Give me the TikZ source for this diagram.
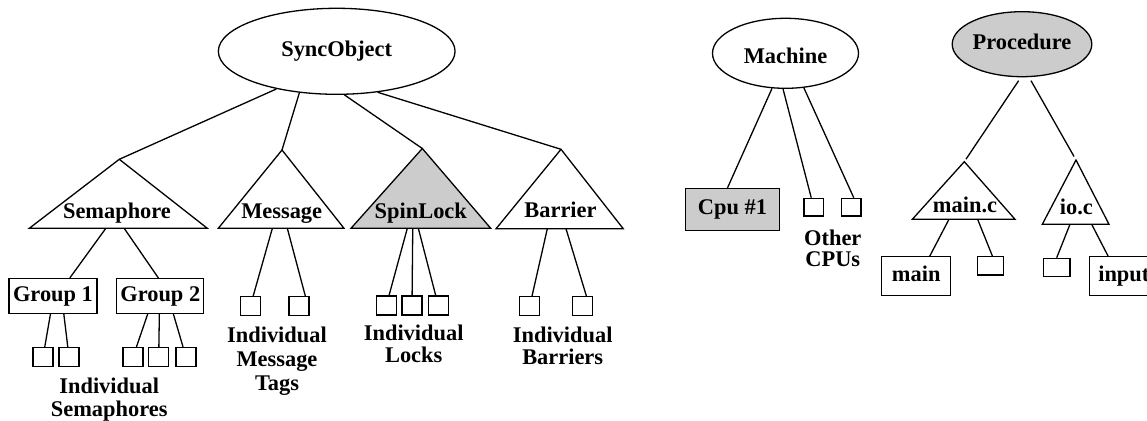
\documentclass[tikz,border=0pt]{standalone}
\usepackage{fontspec}
\setmainfont{Liberation Serif}
\usetikzlibrary{shapes, calc, positioning}

\begin{document}
\begin{tikzpicture}[%
    x=1pt, y=-1pt,              % laid out like the picture: y runs downwards
    line width=1.3pt,
    node distance=26pt and 26pt, % Global setup of leaf spacing
    ]

\tikzset{
  base/.style={align=center, inner sep=0pt, font=\bfseries\fontsize{22.4}{22.4}\selectfont},
  lbl/.style={base, text height=15pt, text depth=5pt},
  obj/.style={lbl, draw, ellipse},
  proc/.style={lbl, draw},
  leaf/.style={draw, on grid, minimum width=20pt, minimum height=19pt, inner sep=0pt},
  note/.style={base, anchor=north},
  shade/.style={fill=black!20}
  };

\clip (0,0) rectangle (1147,420);

% SyncObject tree
\node[obj, minimum width=236.7pt, minimum height=86pt] (syncObject) at (336.7,51.3) {SyncObject};

\draw (119.3,159.3) coordinate (semaphore) -- (29.3,228.3) coordinate (semaphoreL)
      -- (207.3,228.3) coordinate (semaphoreR) -- cycle;
\node[lbl] (semaphoreLbl) at (117,213.3) {Semaphore};

\draw (282,150) coordinate (message) -- (218.3,228.3) coordinate (messageL)
      -- (344,228.3) coordinate (messageR) -- cycle;
\node[lbl] (messageLbl) at (281.7,213.3) {Message};

\draw[shade] (422.3,148.5) coordinate (spinLock) -- (351,228.3) coordinate (spinLockL)
      -- (490.7,228.3) coordinate (spinLockR) -- cycle;
\node[lbl] (spinLockLbl) at (420.8,213.3) {SpinLock};

\draw (561,149.3) coordinate (barrier) -- (496,228.8) coordinate (barrierL)
      -- (623.3,228.8) coordinate (barrierR) -- cycle;
\node[lbl] (barrierLbl) at (560.5,212.3) {Barrier};

\draw (syncObject.212.8) -- (semaphore);
\draw (syncObject.228.8) -- (message);
\draw (syncObject.280.4) -- (spinLock);
\draw (syncObject.315.9) -- (barrier);

% semaphores
\node[proc, minimum width=88pt, minimum height=34.7pt] (group1) at (53,296) {Group 1};
\node[proc, minimum width=87pt, minimum height=34.7pt] (group2) at (160.3,296) {Group 2};
\draw ($(semaphoreL)!.43!(semaphoreR)$)  -- (group1.47);
\draw ($(semaphoreL)!.533!(semaphoreR)$) -- (group2.96);

\node[leaf] (sem1) at (43,357) {};
\node[leaf, right=of sem1] (sem2) {};
\node[leaf] (sem3) at (133,357) {};
\node[leaf, right=25.7pt of sem3] (sem4) {};
\node[leaf, right=27.3pt of sem4] (sem5) {};
\draw (group1.262) -- (sem1);
\draw (group1.301) -- (sem2);
\draw (group2.235) -- (sem3);
\draw (group2.267) -- (sem4);
\draw (group2.306) -- (sem5);
\node[note] (semNote) at (109.2,377.6) {Individual\\Semaphores};

% message tags
\node[leaf] (msg1) at (250.3,306.2) {};
\node[leaf, right=48.7pt of msg1] (msg2) {};
\draw ($(messageL)!.43!(messageR)$)  -- (msg1);
\draw ($(messageL)!.549!(messageR)$) -- (msg2.58);
\node[note] (msgNote) at (277,325.9) {Individual\\[1.6pt]Message\\[1.6pt]Tags};

% locks
\node[leaf] (lock1) at (386.3,305.5) {};
\node[leaf, right=25.7pt of lock1] (lock2) {};
\node[leaf, right=26.3pt of lock2] (lock3) {};
\draw ($(spinLockL)!.403!(spinLockR)$) -- (lock1);
\draw ($(spinLockL)!.442!(spinLockR)$) -- (lock2);
\draw ($(spinLockL)!.482!(spinLockR)$) -- (lock3);
\node[note] (lockNote) at (413.7,323.9) {Individual\\Locks};

% barriers
\node[leaf] (bar1) at (529.7,306.2) {};
\node[leaf, right=53pt of bar1] (bar2) {};
\draw ($(barrierL)!.403!(barrierR)$) -- (bar1);
\draw ($(barrierL)!.55!(barrierR)$)  -- (bar2.70);
\node[note] (barNote) at (562.7,325.9) {Individual\\Barriers};

% Machine
\node[obj, text height=25pt, minimum width=146pt, minimum height=70pt] (machine) at (785.5,53.3) {Machine};
\node[proc, shade, minimum width=94pt, minimum height=42pt] (cpu) at (732.5,209.5) {Cpu \#1};
\node[leaf, minimum width=19.3pt, minimum height=17.7pt] (cpu2) at (813.7,207.2) {};
\node[leaf, minimum width=19.3pt, minimum height=17.7pt, right=37.5pt of cpu2] (cpu3) {};
\draw (machine.249) -- (cpu.103);
\draw (machine.266) -- (cpu2);
\draw (machine.298) -- (cpu3.75);
\node[note] (cpuNote) at (832.8,229.6) {Other\\[-1.5pt]CPUs};

% Procedure
\node[obj, shade, minimum width=122pt, minimum height=65pt] (procedure) at (1022,44.2) {Procedure};

\draw (964.3,161.7) coordinate (mainC) -- (912.3,219.3) coordinate (mainCL)
      -- (1015,219.3) coordinate (mainCR) -- cycle;
\node[lbl] (mainCLbl) at (965,207.7) {main.c};

\draw (1076,160) coordinate (ioC) -- (1042.3,224.3) coordinate (ioCL)
      -- (1109,224.3) coordinate (ioCR) -- cycle;
\node[lbl] (ioCLbl) at (1076.3,209.3) {io.c};

\draw[shorten <=4pt, shorten >=3pt] (procedure.268) -- (mainC);
\draw[shorten <=4pt, shorten >=4pt] (procedure.282) -- (ioC);

\node[proc, minimum width=69pt, minimum height=39pt] (mainFn) at (916.2,276.2) {main};
\node[leaf, minimum width=26pt, minimum height=18.3pt] (mainLeaf) at (990.3,265.8) {};
\draw ($(mainCL)!.357!(mainCR)$) -- (mainFn.56);
\draw ($(mainCL)!.636!(mainCR)$) -- (mainLeaf.78);

\node[leaf, minimum width=26.7pt, minimum height=18.3pt] (ioLeaf) at (1056.7,267.5) {};
\node[proc, minimum width=69pt, minimum height=39pt] (inputFn) at (1123.8,276.2) {input};
\draw ($(ioCL)!.415!(ioCR)$) -- (ioLeaf.north);
\draw ($(ioCL)!.74!(ioCR)$)  -- (inputFn.128);

\end{tikzpicture}
\end{document}
